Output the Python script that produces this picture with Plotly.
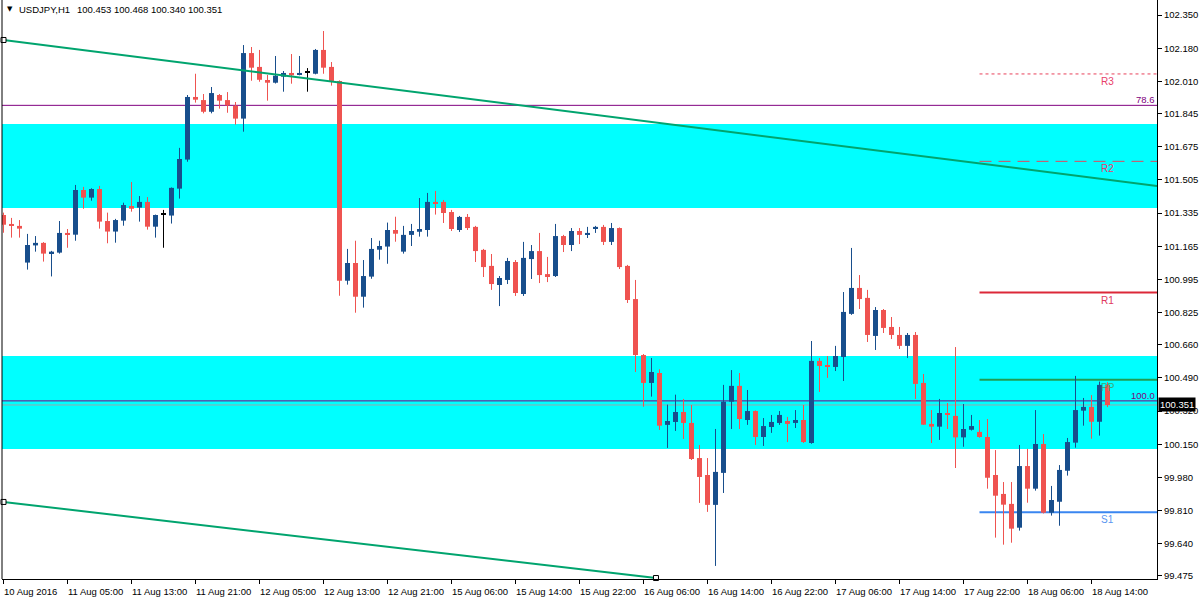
import plotly.graph_objects as go

# ---------------- data ----------------
symbol = "USDJPY,H1"

opens = [101.325, 101.279, 101.269, 101.081, 101.169, 101.182, 101.127, 101.132, 101.233, 101.224,
         101.453, 101.414, 101.458, 101.294, 101.240, 101.296, 101.371, 101.363, 101.392, 101.265,
         101.325, 101.322, 101.460, 101.609, 101.930, 101.914, 101.854, 101.940, 101.914, 101.885,
         101.819, 102.155, 102.084, 102.017, 102.003, 102.034, 102.053, 102.044, 102.053, 102.049,
         102.171, 102.084, 102.012, 100.988, 101.079, 100.906, 101.009, 101.147, 101.163, 101.248,
         101.137, 101.223, 101.239, 101.248, 101.392, 101.392, 101.340, 101.248, 101.315, 101.264,
         101.146, 101.064, 100.966, 100.992, 101.084, 100.920, 101.099, 101.140, 101.022, 101.012,
         101.217, 101.171, 101.243, 101.223, 101.253, 101.264, 101.187, 101.258, 101.064, 100.894,
         100.607, 100.464, 100.515, 100.249, 100.264, 100.315, 100.259, 100.079, 99.992, 99.839,
         100.003, 100.368, 100.449, 100.274, 100.320, 100.187, 100.238, 100.259, 100.269, 100.259,
         100.274, 100.156, 100.577, 100.551, 100.546, 100.597, 100.818, 100.951, 100.900, 100.705,
         100.838, 100.751, 100.710, 100.654, 100.710, 100.464, 100.254, 100.240, 100.310, 100.295,
         100.185, 100.224, 100.213, 100.187, 99.992, 99.895, 99.844, 99.722, 100.038, 99.922,
         100.151, 99.799, 99.855, 100.014, 100.158, 100.322, 100.341, 100.265, 100.453]
highs = [101.337, 101.310, 101.299, 101.228, 101.217, 101.186, 101.141, 101.294, 101.253, 101.479,
         101.469, 101.462, 101.474, 101.337, 101.305, 101.388, 101.494, 101.422, 101.417, 101.327,
         101.351, 101.466, 101.669, 101.940, 102.049, 101.945, 101.981, 101.945, 101.955, 101.904,
         102.196, 102.186, 102.171, 102.043, 102.140, 102.063, 102.150, 102.140, 102.078, 102.176,
         102.268, 102.109, 102.015, 101.151, 101.193, 101.094, 101.207, 101.193, 101.286, 101.316,
         101.269, 101.279, 101.412, 101.438, 101.448, 101.402, 101.351, 101.320, 101.330, 101.269,
         101.151, 101.125, 101.012, 101.105, 101.094, 101.187, 101.171, 101.233, 101.110, 101.279,
         101.223, 101.258, 101.258, 101.264, 101.269, 101.274, 101.284, 101.261, 101.069, 100.992,
         100.612, 100.592, 100.534, 100.353, 100.404, 100.382, 100.351, 100.146, 100.079, 100.228,
         100.454, 100.530, 100.515, 100.428, 100.323, 100.284, 100.300, 100.320, 100.290, 100.325,
         100.351, 100.679, 100.592, 100.602, 100.654, 100.930, 101.156, 101.017, 100.941, 100.853,
         100.843, 100.802, 100.751, 100.720, 100.725, 100.510, 100.325, 100.382, 100.361, 100.648,
         100.356, 100.300, 100.274, 100.279, 100.120, 99.956, 99.956, 100.146, 100.126, 100.325,
         100.202, 99.936, 100.043, 100.182, 100.500, 100.387, 100.402, 100.471, 100.468]
lows = [101.234, 101.209, 101.209, 101.045, 101.137, 101.086, 101.010, 101.127, 101.157, 101.193,
        101.357, 101.398, 101.255, 101.180, 101.183, 101.270, 101.342, 101.291, 101.250, 101.209,
        101.157, 101.281, 101.409, 101.598, 101.901, 101.846, 101.846, 101.870, 101.849, 101.788,
        101.752, 102.013, 102.008, 101.911, 101.999, 101.957, 101.998, 102.041, 101.957, 102.046,
        102.049, 101.988, 100.911, 100.968, 100.824, 100.850, 100.998, 101.096, 101.075, 101.188,
        101.127, 101.166, 101.214, 101.214, 101.327, 101.284, 101.243, 101.238, 101.248, 101.084,
        101.007, 100.941, 100.858, 100.971, 100.910, 100.910, 100.997, 100.976, 100.981, 101.007,
        101.135, 101.140, 101.176, 101.207, 101.233, 101.171, 101.171, 101.048, 100.874, 100.520,
        100.342, 100.394, 100.223, 100.131, 100.218, 100.177, 100.069, 99.849, 99.803, 99.526,
        99.900, 100.228, 100.228, 100.249, 100.146, 100.141, 100.208, 100.249, 100.161, 100.233,
        100.156, 100.152, 100.418, 100.490, 100.525, 100.474, 100.813, 100.843, 100.674, 100.633,
        100.720, 100.689, 100.638, 100.592, 100.382, 100.249, 100.156, 100.172, 100.228, 100.028,
        100.137, 100.220, 100.183, 99.922, 99.671, 99.635, 99.645, 99.707, 99.850, 99.912,
        99.795, 99.784, 99.732, 99.989, 100.132, 100.245, 100.178, 100.194, 100.340]
closes = [101.275, 101.270, 101.255, 101.171, 101.182, 101.127, 101.137, 101.233, 101.224, 101.453,
          101.414, 101.458, 101.291, 101.240, 101.299, 101.376, 101.357, 101.392, 101.265, 101.325,
          101.325, 101.464, 101.612, 101.930, 101.916, 101.854, 101.950, 101.911, 101.887, 101.819,
          102.155, 102.080, 102.018, 102.003, 102.039, 102.053, 102.041, 102.053, 102.053, 102.171,
          102.080, 102.012, 100.988, 101.079, 100.906, 101.012, 101.151, 101.166, 101.248, 101.229,
          101.223, 101.243, 101.253, 101.392, 101.386, 101.335, 101.253, 101.315, 101.258, 101.140,
          101.058, 100.971, 101.002, 101.089, 100.925, 101.105, 101.140, 101.017, 101.012, 101.217,
          101.171, 101.243, 101.223, 101.233, 101.264, 101.187, 101.258, 101.058, 100.889, 100.607,
          100.464, 100.520, 100.245, 100.269, 100.315, 100.259, 100.074, 99.982, 99.839, 100.008,
          100.368, 100.449, 100.279, 100.320, 100.187, 100.243, 100.264, 100.300, 100.254, 100.274,
          100.161, 100.577, 100.551, 100.546, 100.602, 100.828, 100.951, 100.894, 100.710, 100.838,
          100.746, 100.710, 100.654, 100.710, 100.459, 100.250, 100.240, 100.310, 100.301, 100.185,
          100.228, 100.243, 100.187, 99.978, 99.886, 99.840, 99.717, 100.038, 99.922, 100.151,
          99.799, 99.864, 100.018, 100.161, 100.325, 100.341, 100.265, 100.454, 100.351]

tick_bars = [0, 8, 16, 24, 32, 40, 48, 56, 64, 72, 80, 88, 96, 104, 112, 120, 128, 136]
tick_labels = ["10 Aug 2016", "11 Aug 05:00", "11 Aug 13:00", "11 Aug 21:00", "12 Aug 05:00",
               "12 Aug 13:00", "12 Aug 21:00", "15 Aug 06:00", "15 Aug 14:00", "15 Aug 22:00",
               "16 Aug 06:00", "16 Aug 14:00", "16 Aug 22:00", "17 Aug 06:00", "17 Aug 14:00",
               "17 Aug 22:00", "18 Aug 06:00", "18 Aug 14:00"]

price_ticks = [102.350, 102.180, 102.010, 101.845, 101.675, 101.505, 101.335, 101.165, 100.995,
               100.825, 100.660, 100.490, 100.320, 100.150, 99.980, 99.810, 99.640, 99.475]

zone_low = [101.361, 100.126]
zone_high = [101.791, 100.602]

fib_names = ["78.6", "100.0"]
fib_values = [101.887, 100.372]

pivot_names = ["R3", "R2", "R1", "PP", "S1"]
pivot_values = [102.048, 101.600, 100.927, 100.481, 99.801]
pivot_start_bar = 122
pivot_label_bar = 138

trend_upper_x = [0, 144.19]
trend_upper_y = [102.222, 101.474]
trend_lower_x = [0, 81.56]
trend_lower_y = [99.854, 99.464]

# ---------------- style ----------------
BULL = "#184e8c"
BEAR = "#ef5350"
DOJI = "#000000"
FONT = "Liberation Sans"
FS = 9.5
X_MIN, X_MAX = -0.1875, 144.1875
Y_MIN, Y_MAX = 99.459, 102.427
ONE_PX = (Y_MAX - Y_MIN) / 579.0

pivot_line_styles = [
    dict(color="#e8405a", width=1, dash="dot"),
    dict(color="#e0485e", width=1, dash="12px,7px"),
    dict(color="#dc2838", width=2),
    dict(color="#1f9e55", width=2),
    dict(color="#3a86f0", width=2),
]
pivot_label_colors = ["#e8406a", "#e8406a", "#e03a60", "#3aaa78", "#5a96f0"]

n = len(opens)
idx = list(range(n))

colors = []
for o, c in zip(opens, closes):
    colors.append(BULL if c > o else (BEAR if c < o else DOJI))

bases = [min(o, c) for o, c in zip(opens, closes)]
heights = [max(abs(c - o), ONE_PX) for o, c in zip(opens, closes)]

fig = go.Figure()

# wicks
for col in (BULL, BEAR, DOJI):
    wx, wy = [], []
    for i in idx:
        if colors[i] == col:
            wx += [i, i, None]
            wy += [lows[i], highs[i], None]
    fig.add_trace(go.Scatter(x=wx, y=wy, mode="lines", line=dict(color=col, width=1),
                             hoverinfo="skip", showlegend=False))

# bodies
fig.add_trace(go.Bar(x=idx, y=heights, base=bases, width=0.625,
                     marker=dict(color=colors, line=dict(width=0)),
                     hoverinfo="skip", showlegend=False))

# trend lines
for tx, ty in ((trend_upper_x, trend_upper_y), (trend_lower_x, trend_lower_y)):
    fig.add_trace(go.Scatter(x=tx, y=ty, mode="lines", line=dict(color="#00a46e", width=2),
                             hoverinfo="skip", showlegend=False))
    fig.add_trace(go.Scatter(x=tx, y=ty, mode="markers", cliponaxis=False,
                             marker=dict(symbol="square", size=5, color="white",
                                         line=dict(color="black", width=1)),
                             hoverinfo="skip", showlegend=False))

shapes = []
for lo, hi in zip(zone_low, zone_high):
    shapes.append(dict(type="rect", xref="paper", yref="y", x0=0, x1=1, y0=lo, y1=hi,
                       fillcolor="#00ffff", line=dict(width=0), layer="below"))
for v in fib_values:
    shapes.append(dict(type="line", xref="paper", yref="y", x0=0, x1=1, y0=v, y1=v,
                       line=dict(color="#800080", width=1), layer="below"))
# bid line at last close
shapes.append(dict(type="line", xref="paper", yref="y", x0=0, x1=1, y0=closes[-1], y1=closes[-1],
                   line=dict(color="#9aa6aa", width=1), layer="below"))
for v, st in zip(pivot_values, pivot_line_styles):
    shapes.append(dict(type="line", xref="x", yref="y", x0=pivot_start_bar, x1=X_MAX, y0=v, y1=v,
                       line=st, layer="below"))
# left frame line
shapes.append(dict(type="line", xref="paper", yref="paper", x0=0, x1=0, y0=0, y1=1,
                   line=dict(color="black", width=1)))

annotations = []
for b, t in zip(tick_bars, tick_labels):
    annotations.append(dict(x=b, y=0, xref="x", yref="paper", text=t, showarrow=False,
                            xanchor="left", yanchor="top", xshift=-2, yshift=-5,
                            font=dict(family=FONT, size=FS, color="black")))
for name, v in zip(fib_names, fib_values):
    annotations.append(dict(x=1, y=v, xref="paper", yref="y", text=name, showarrow=False,
                            xanchor="right", yanchor="bottom", xshift=0, yshift=-2,
                            font=dict(family=FONT, size=FS, color="#800080")))
for name, v, col in zip(pivot_names, pivot_values, pivot_label_colors):
    annotations.append(dict(x=pivot_label_bar, y=v, xref="x", yref="y", text=name, showarrow=False,
                            xanchor="center", yanchor="top", yshift=0,
                            font=dict(family=FONT, size=FS + 0.5, color=col)))
# price box
annotations.append(dict(x=1, y=closes[-1], xref="paper", yref="y", text=f"{closes[-1]:.3f}",
                        showarrow=False, xanchor="left", yanchor="middle", xshift=1,
                        bgcolor="black", borderpad=1,
                        font=dict(family=FONT, size=FS, color="white")))
# header
annotations.append(dict(x=0, y=1, xref="paper", yref="paper", text="▼", showarrow=False,
                        xanchor="left", yanchor="top", xshift=3, yshift=-3,
                        font=dict(family="DejaVu Sans", size=7, color="black")))
annotations.append(dict(x=0, y=1, xref="paper", yref="paper", text=symbol, showarrow=False,
                        xanchor="left", yanchor="top", xshift=15, yshift=-2,
                        font=dict(family=FONT, size=FS, color="black")))
annotations.append(dict(x=0, y=1, xref="paper", yref="paper",
                        text=" ".join(f"{v:.3f}" for v in (opens[-1], highs[-1], lows[-1], closes[-1])),
                        showarrow=False, xanchor="left", yanchor="top", xshift=73, yshift=-2,
                        font=dict(family=FONT, size=FS, color="black")))

fig.update_layout(
    width=1200, height=600,
    margin=dict(l=2, r=43, t=0, b=21, pad=0),
    paper_bgcolor="white", plot_bgcolor="white",
    showlegend=False, barmode="overlay",
    shapes=shapes, annotations=annotations,
    xaxis=dict(range=[X_MIN, X_MAX], showgrid=False, zeroline=False, showline=True,
               linecolor="black", linewidth=1, ticks="outside", ticklen=4, tickcolor="black",
               tickvals=tick_bars, showticklabels=False, fixedrange=True),
    yaxis=dict(range=[Y_MIN, Y_MAX], side="right", showgrid=False, zeroline=False, showline=True,
               linecolor="black", linewidth=1, ticks="outside", ticklen=4, tickcolor="black",
               tickvals=price_ticks, ticktext=[f"{v:.3f}" for v in price_ticks],
               tickfont=dict(family=FONT, size=FS, color="black"), fixedrange=True),
)

fig.write_html("out.html", config={"displayModeBar": False},
               post_script="document.body.style.margin='0';document.body.style.overflow='hidden';")
